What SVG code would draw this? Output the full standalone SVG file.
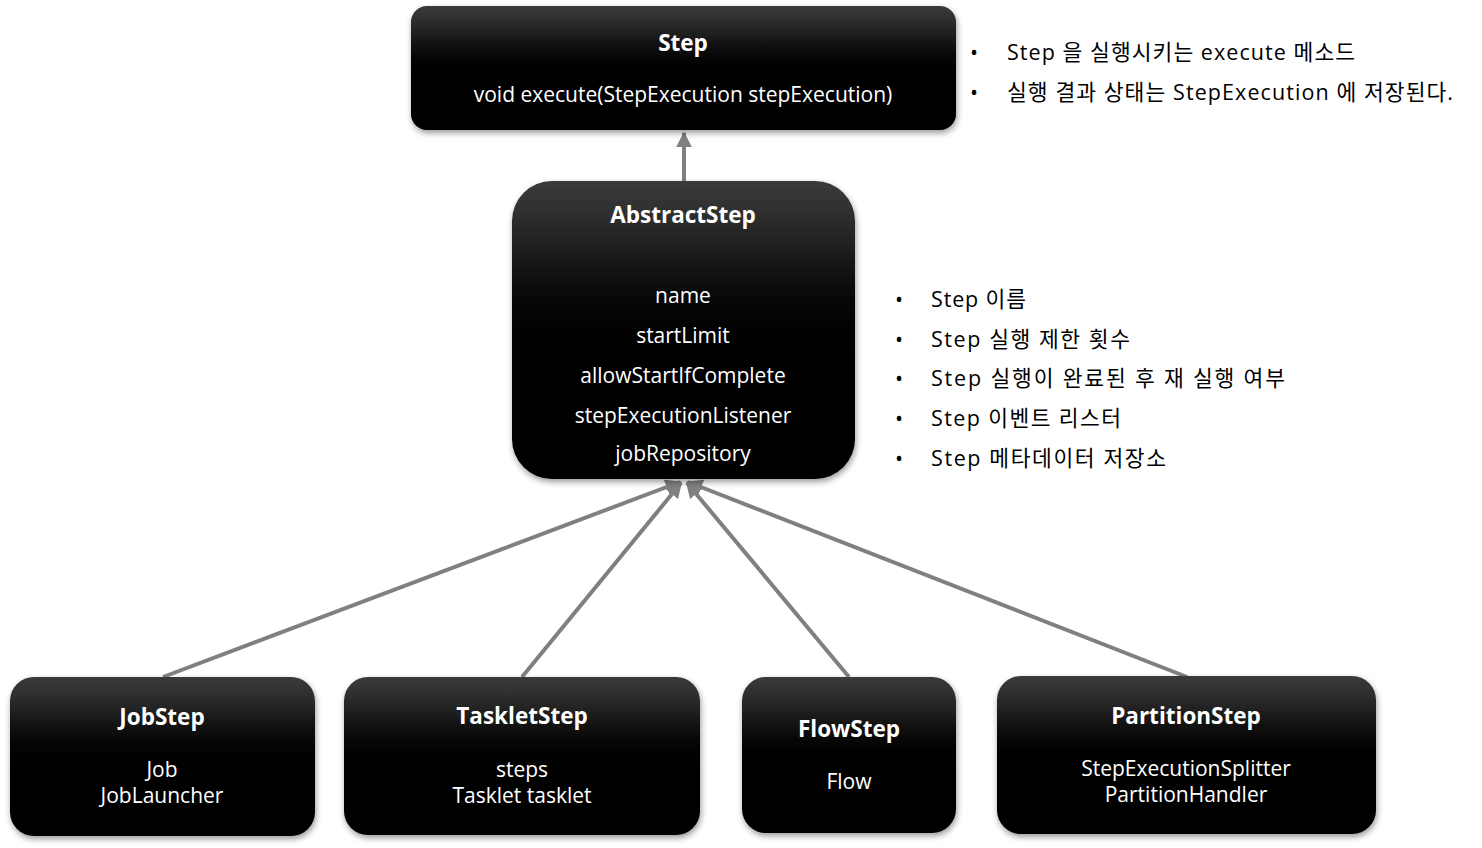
<svg xmlns="http://www.w3.org/2000/svg" width="1482" height="848" viewBox="0 0 1482 848">
<defs>
<linearGradient id="g" x1="0" y1="0" x2="0" y2="1">
<stop offset="0" stop-color="#3a3a3a"/>
<stop offset="0.1" stop-color="#303030"/>
<stop offset="0.2" stop-color="#222"/>
<stop offset="0.3" stop-color="#131313"/>
<stop offset="0.4" stop-color="#070707"/>
<stop offset="0.5" stop-color="#010101"/>
<stop offset="0.6" stop-color="#000"/>
<stop offset="1" stop-color="#000"/>
</linearGradient>
<filter id="blur" x="-10%" y="-10%" width="120%" height="130%">
<feGaussianBlur stdDeviation="3"/>
</filter>
<marker id="ah" viewBox="0 0 10 10" refX="9" refY="5" markerWidth="4" markerHeight="4" markerUnits="strokeWidth" orient="auto">
<path d="M0,0 L10,5 L0,10 z" fill="#808080"/>
</marker>
<style>
.box{fill:url(#g)}
.shd{fill:#000;opacity:0.4;filter:url(#blur)}
.t{font-family:"Open Sans","Noto Sans CJK KR",sans-serif;fill:#fff;text-anchor:middle;font-size:21px}
.b{font-weight:bold;font-size:22.5px}
.n{font-family:"Open Sans","Noto Sans CJK KR",sans-serif;fill:#000;font-size:21.5px}
.c{stroke:#808080;stroke-width:4;fill:none;marker-end:url(#ah)}
</style>
</defs>
<rect width="1482" height="848" fill="#fff"/>
<g id="connectors">
<line class="c" x1="684" y1="181" x2="684" y2="133"/>
<line class="c" x1="163" y1="677" x2="680" y2="482"/>
<line class="c" x1="522" y1="677" x2="681" y2="483"/>
<line class="c" x1="849" y1="677" x2="687" y2="483"/>
<line class="c" x1="1187" y1="677" x2="688" y2="482"/>
</g>
<g id="step">
<rect class="shd" x="412" y="9" width="545" height="124" rx="16"/>
<rect class="box" x="411" y="6" width="545" height="124" rx="16"/>
<text class="t b" x="683" y="51">Step</text>
<text class="t" x="683" y="102">void execute(StepExecution stepExecution)</text>
</g>
<g id="abstractStep">
<rect class="shd" x="513" y="184" width="343" height="298" rx="40"/>
<rect class="box" x="512" y="181" width="343" height="298" rx="40"/>
<text class="t b" x="683" y="223">AbstractStep</text>
<text class="t" x="683" y="303">name</text>
<text class="t" x="683" y="343">startLimit</text>
<text class="t" x="683" y="383">allowStartIfComplete</text>
<text class="t" x="683" y="423">stepExecutionListener</text>
<text class="t" x="683" y="461">jobRepository</text>
</g>
<g id="jobStep">
<rect class="shd" x="11" y="680" width="305" height="159" rx="24"/>
<rect class="box" x="10" y="677" width="305" height="159" rx="24"/>
<text class="t b" x="162" y="725">JobStep</text>
<text class="t" x="162" y="777">Job</text>
<text class="t" x="162" y="803">JobLauncher</text>
</g>
<g id="taskletStep">
<rect class="shd" x="345" y="680" width="356" height="158" rx="24"/>
<rect class="box" x="344" y="677" width="356" height="158" rx="24"/>
<text class="t b" x="522" y="724">TaskletStep</text>
<text class="t" x="522" y="777">steps</text>
<text class="t" x="522" y="803">Tasklet tasklet</text>
</g>
<g id="flowStep">
<rect class="shd" x="743" y="680" width="214" height="156" rx="24"/>
<rect class="box" x="742" y="677" width="214" height="156" rx="24"/>
<text class="t b" x="849" y="737">FlowStep</text>
<text class="t" x="849" y="789">Flow</text>
</g>
<g id="partitionStep">
<rect class="shd" x="998" y="679" width="379" height="158" rx="24"/>
<rect class="box" x="997" y="676" width="379" height="158" rx="24"/>
<text class="t b" x="1186" y="724">PartitionStep</text>
<text class="t" x="1186" y="776">StepExecutionSplitter</text>
<text class="t" x="1186" y="802">PartitionHandler</text>
</g>
<g id="notes-step">
<text class="n" x="970" y="60">•</text>
<text class="n" x="1007" y="60" textLength="348" lengthAdjust="spacing">Step 을 실행시키는 execute 메소드</text>
<text class="n" x="970" y="100">•</text>
<text class="n" x="1007" y="100" textLength="446" lengthAdjust="spacing">실행 결과 상태는 StepExecution 에 저장된다.</text>
</g>
<g id="notes-abstract">
<text class="n" x="895" y="307">•</text>
<text class="n" x="931" y="307" textLength="95" lengthAdjust="spacing">Step 이름</text>
<text class="n" x="895" y="347">•</text>
<text class="n" x="931" y="347" textLength="199" lengthAdjust="spacing">Step 실행 제한 횟수</text>
<text class="n" x="895" y="386">•</text>
<text class="n" x="931" y="386" textLength="354" lengthAdjust="spacing">Step 실행이 완료된 후 재 실행 여부</text>
<text class="n" x="895" y="426">•</text>
<text class="n" x="931" y="426" textLength="190" lengthAdjust="spacing">Step 이벤트 리스터</text>
<text class="n" x="895" y="466">•</text>
<text class="n" x="931" y="466" textLength="235" lengthAdjust="spacing">Step 메타데이터 저장소</text>
</g>
</svg>
